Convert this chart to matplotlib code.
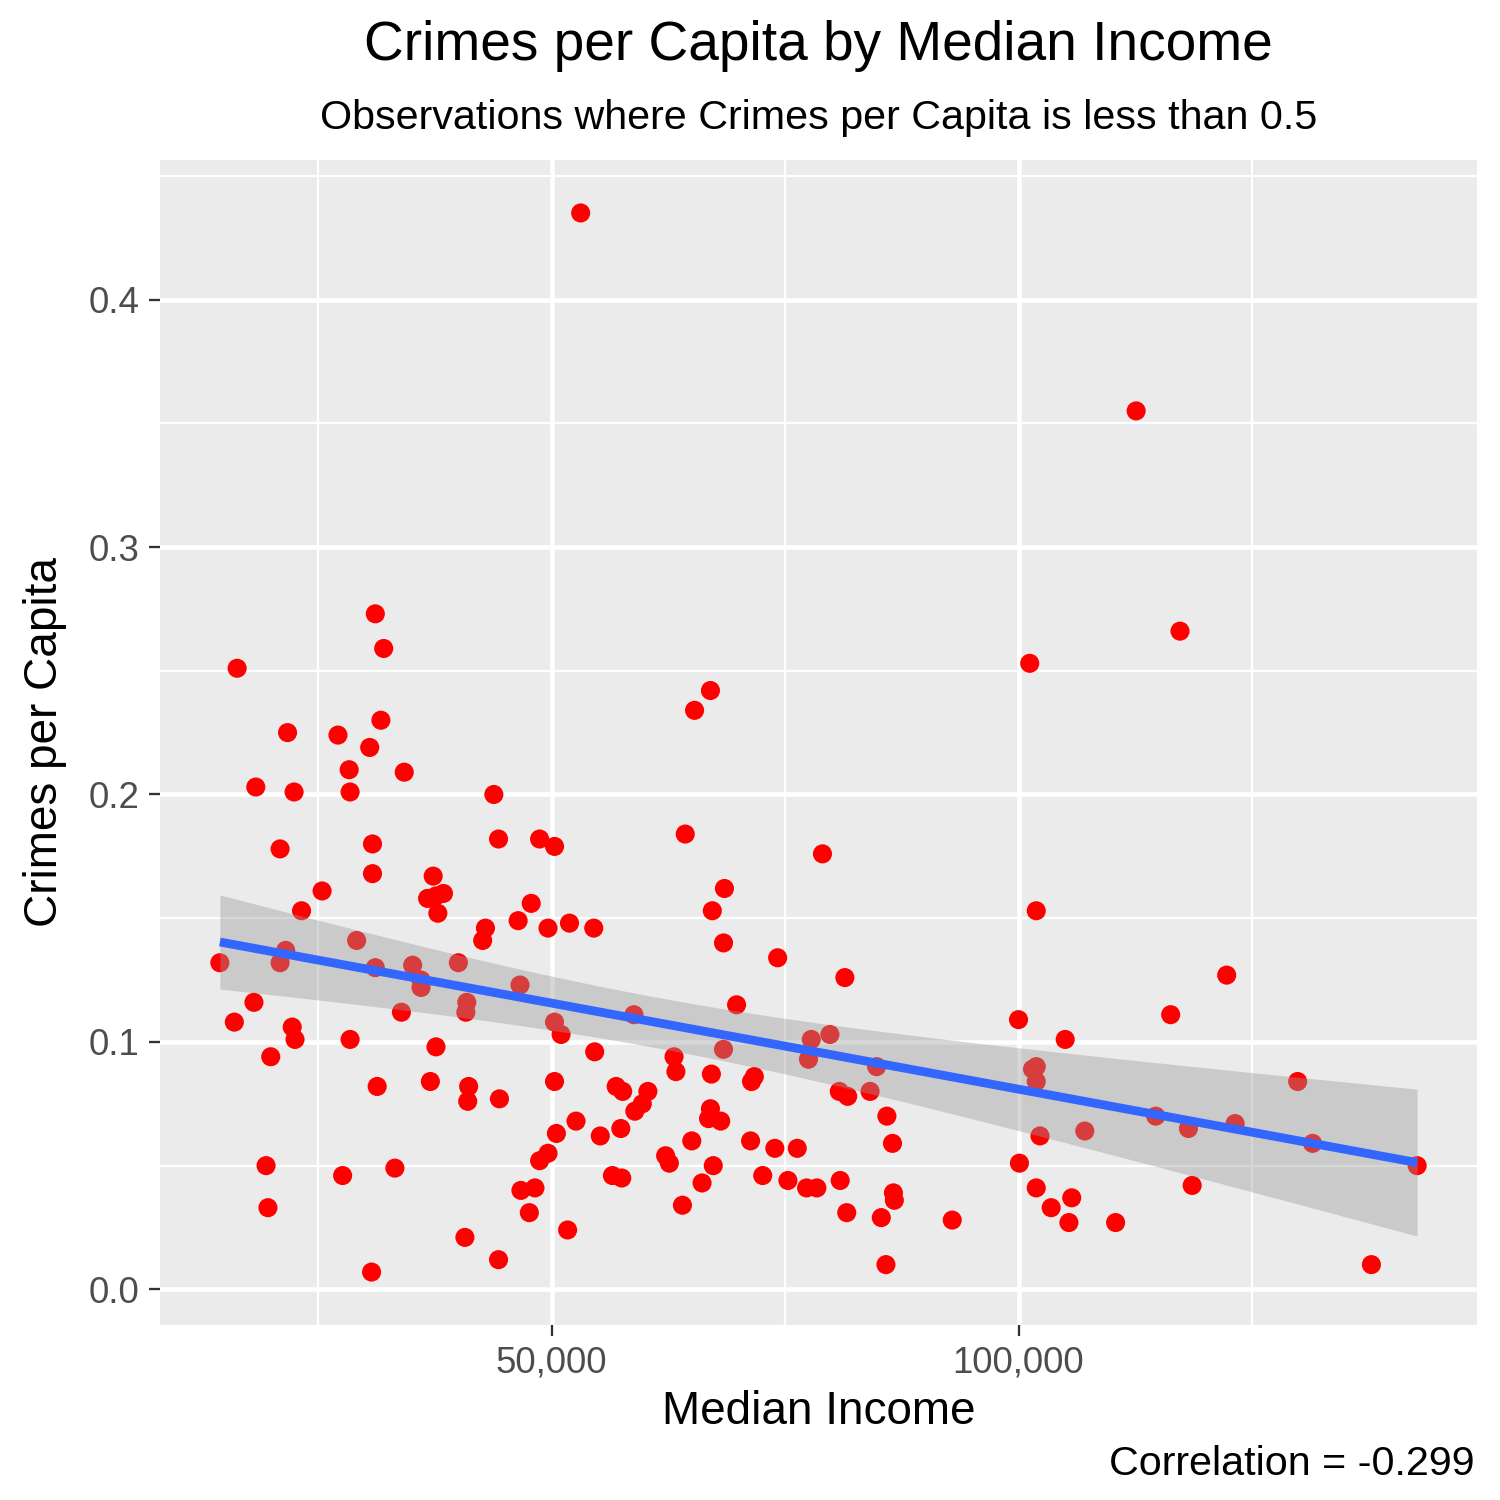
import numpy as np
import matplotlib
matplotlib.use("Agg")
import matplotlib.pyplot as plt
from matplotlib.ticker import FixedLocator

plt.rcParams['font.family'] = ['Liberation Sans', 'DejaVu Sans']

# ---- data ----
median_income = [
    53100, 112600, 117300, 101200, 31100, 32000, 16300, 67000, 65300, 21700,
    27100, 30500, 31700, 28300, 34200, 18300, 22400, 28400, 43800, 64300,
    79000, 20900, 30800, 44300, 48700, 50300, 30800, 37300, 68500, 25400,
    36700, 37600, 38400, 23200, 37800, 101900, 67200, 47800, 46400, 51900,
    54500, 49600, 42900, 42600, 29100, 68400, 21500, 14450, 20900, 31100,
    35100, 40000, 74200, 122300, 81400, 46600, 36000, 36000, 40900, 40800,
    69800, 18100, 16000, 100000, 116300, 33900, 50300, 58800, 22200, 22500,
    51000, 28400, 79800, 77800, 105000, 68400, 37600, 54600, 19900, 63100,
    101900, 101500, 84800, 77500, 63300, 67100, 37000, 31300, 41100, 50300,
    56900, 57600, 60300, 71700, 71400, 101900, 129900, 41000, 44400, 59700,
    58900, 80800, 81700, 84100, 67000, 66800, 68100, 85900, 114700, 123200,
    118200, 107100, 52600, 50500, 57400, 55200, 65000, 102300, 86500, 71300,
    73900, 76300, 131500, 62200, 62600, 49600, 48700, 19400, 67300, 100100,
    142700, 33200, 27600, 56500, 57500, 72600, 75300, 80900, 66100, 46700,
    48200, 77300, 78400, 101900, 118600, 86600, 86700, 105700, 103500, 64000,
    47600, 81600, 85300, 92900, 110400, 105400, 19600, 51700, 40700, 44300,
    30700, 85800, 137800,
]
crimes_per_capita = [
    0.435, 0.355, 0.266, 0.253, 0.273, 0.259, 0.251, 0.242, 0.234, 0.225,
    0.224, 0.219, 0.230, 0.210, 0.209, 0.203, 0.201, 0.201, 0.200, 0.184,
    0.176, 0.178, 0.180, 0.182, 0.182, 0.179, 0.168, 0.167, 0.162, 0.161,
    0.158, 0.159, 0.160, 0.153, 0.152, 0.153, 0.153, 0.156, 0.149, 0.148,
    0.146, 0.146, 0.146, 0.141, 0.141, 0.140, 0.137, 0.132, 0.132, 0.130,
    0.131, 0.132, 0.134, 0.127, 0.126, 0.123, 0.125, 0.122, 0.116, 0.112,
    0.115, 0.116, 0.108, 0.109, 0.111, 0.112, 0.108, 0.111, 0.106, 0.101,
    0.103, 0.101, 0.103, 0.101, 0.101, 0.097, 0.098, 0.096, 0.094, 0.094,
    0.090, 0.089, 0.090, 0.093, 0.088, 0.087, 0.084, 0.082, 0.082, 0.084,
    0.082, 0.080, 0.080, 0.086, 0.084, 0.084, 0.084, 0.076, 0.077, 0.075,
    0.072, 0.080, 0.078, 0.080, 0.073, 0.069, 0.068, 0.070, 0.070, 0.067,
    0.065, 0.064, 0.068, 0.063, 0.065, 0.062, 0.060, 0.062, 0.059, 0.060,
    0.057, 0.057, 0.059, 0.054, 0.051, 0.055, 0.052, 0.050, 0.050, 0.051,
    0.050, 0.049, 0.046, 0.046, 0.045, 0.046, 0.044, 0.044, 0.043, 0.040,
    0.041, 0.041, 0.041, 0.041, 0.042, 0.039, 0.036, 0.037, 0.033, 0.034,
    0.031, 0.031, 0.029, 0.028, 0.027, 0.027, 0.033, 0.024, 0.021, 0.012,
    0.007, 0.010, 0.010,
]
x_ticks = [50000, 100000]
x_tick_labels = ["50,000", "100,000"]
y_ticks = [0.0, 0.1, 0.2, 0.3, 0.4]
y_tick_labels = ["0.0", "0.1", "0.2", "0.3", "0.4"]
x_minor = [25000, 75000, 125000]
y_minor = [0.05, 0.15, 0.25, 0.35, 0.45]
correlation_text = "Correlation = -0.299"
title = "Crimes per Capita by Median Income"
subtitle = "Observations where Crimes per Capita is less than 0.5"
x_label = "Median Income"
y_label = "Crimes per Capita"

x = np.array(median_income, dtype=float)
y = np.array(crimes_per_capita, dtype=float)

# ---- linear fit with 95% confidence band (like geom_smooth(method="lm")) ----
n = len(x)
b1, b0 = np.polyfit(x, y, 1)
xs = np.linspace(x.min(), x.max(), 200)
ys = b0 + b1 * xs
resid = y - (b0 + b1 * x)
s = np.sqrt(np.sum(resid ** 2) / (n - 2))
sxx = np.sum((x - x.mean()) ** 2)
se = s * np.sqrt(1.0 / n + (xs - x.mean()) ** 2 / sxx)
tval = 1.975
lo, hi = ys - tval * se, ys + tval * se

# ---- figure ----
fig = plt.figure(figsize=(5, 5), dpi=300)
ax = fig.add_axes([160 / 1500, 175 / 1500, (1477 - 160) / 1500, (1325 - 160) / 1500])
ax.set_facecolor("#EBEBEB")

xr = x.max() - x.min()
yr = y.max() - y.min()
ax.set_xlim(x.min() - 0.05 * xr, x.max() + 0.05 * xr)
ax.set_ylim(y.min() - 0.05 * yr, y.max() + 0.05 * yr)

for v in x_minor:
    ax.axvline(v, color="white", lw=0.55, zorder=0.5)
for v in y_minor:
    ax.axhline(v, color="white", lw=0.55, zorder=0.5)
for v in x_ticks:
    ax.axvline(v, color="white", lw=1.1, zorder=0.6)
for v in y_ticks:
    ax.axhline(v, color="white", lw=1.1, zorder=0.6)

ax.scatter(x, y, s=21, color="red", edgecolors="none", zorder=2)
ax.fill_between(xs, lo, hi, color="#999999", alpha=0.4, lw=0, zorder=3)
ax.plot(xs, ys, color="#3366FF", lw=2.1, zorder=4, solid_capstyle="butt")

ax.xaxis.set_major_locator(FixedLocator(x_ticks))
ax.set_xticklabels(x_tick_labels)
ax.yaxis.set_major_locator(FixedLocator(y_ticks))
ax.set_yticklabels(y_tick_labels)
ax.tick_params(axis="both", which="major", length=2.75, width=0.55, color="#333333",
               labelsize=8.8, labelcolor="#4D4D4D", pad=2.2)
for sp in ax.spines.values():
    sp.set_visible(False)

cx = (160 + 1477) / 2 / 1500
fig.text(cx, 1 - 46 / 1500, title, ha="center", va="center", fontsize=13.2, color="black")
fig.text(cx, 1 - 118 / 1500, subtitle, ha="center", va="center", fontsize=9.9, color="black")
fig.text(cx, 1 - 1412 / 1500, x_label, ha="center", va="center", fontsize=11, color="black")
fig.text(45 / 1500, 1 - 742 / 1500, y_label, ha="center", va="center", rotation=90,
         fontsize=11, color="black")
fig.text(1475 / 1500, 1 - 1464 / 1500, correlation_text, ha="right", va="center",
         fontsize=9.9, color="black")

fig.savefig("out.png", dpi=300, facecolor="white")
